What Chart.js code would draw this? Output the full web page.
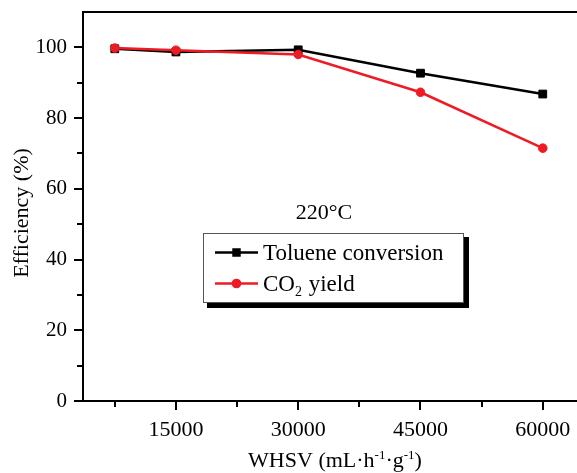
<!DOCTYPE html>
<html>
<head>
<meta charset="utf-8">
<script src="https://cdn.jsdelivr.net/npm/chart.js@4.4.1/dist/chart.umd.min.js"></script>
<style>
  html, body { margin: 0; padding: 0; background: #fff; overflow: hidden; }
  #wrap { width: 577px; height: 473px; }
</style>
</head>
<body>
<div id="wrap"><canvas id="chart" width="577" height="473"></canvas></div>
<script>
// WHSV (mL·h-1·g-1) and efficiencies (%)
const whsv = [7500, 15000, 30000, 45000, 60000];
const tolueneConversion = [99.6, 98.7, 99.3, 92.7, 86.8];
const co2Yield = [99.8, 99.2, 98.0, 87.3, 71.5];

// axis ticks
const xTickValues = [7500, 15000, 22500, 30000, 37500, 45000, 52500, 60000];
const xTickLabels = [15000, 30000, 45000, 60000];
const yTickValues = [0, 10, 20, 30, 40, 50, 60, 70, 80, 90, 100];
const yTickLabels = [0, 20, 40, 60, 80, 100];

const FONT = "'Liberation Serif', 'Times New Roman', serif";

// draws tick marks, top border, annotation, legend box and axis titles
const decorPlugin = {
  id: "decor",
  afterDraw(chart) {
    const ctx = chart.ctx;
    const area = chart.chartArea;
    const xs = chart.scales.x;
    const ys = chart.scales.y;
    ctx.save();
    ctx.strokeStyle = "#000";
    ctx.lineWidth = 2;

    // top frame line
    ctx.beginPath();
    ctx.moveTo(area.left - 1, area.top);
    ctx.lineTo(chart.width, area.top);
    ctx.stroke();

    // x tick marks
    xTickValues.forEach((v) => {
      const px = Math.round(xs.getPixelForValue(v));
      const len = xTickLabels.includes(v) ? 9 : 6;
      ctx.beginPath();
      ctx.moveTo(px, area.bottom);
      ctx.lineTo(px, area.bottom + len);
      ctx.stroke();
    });
    // y tick marks
    yTickValues.forEach((v) => {
      const py = Math.round(ys.getPixelForValue(v));
      const len = yTickLabels.includes(v) ? 9 : 6;
      ctx.beginPath();
      ctx.moveTo(area.left, py);
      ctx.lineTo(area.left - len, py);
      ctx.stroke();
    });

    ctx.fillStyle = "#000";
    ctx.font = "22px " + FONT;
    ctx.textBaseline = "alphabetic";

    // temperature note
    ctx.textAlign = "center";
    ctx.fillText("220°C", 324, 219);

    // legend box with shadow
    const lx = 203, ly = 233, lw = 261, lh = 70;
    ctx.fillStyle = "#000";
    ctx.fillRect(lx + 4, ly + 4, lw + 1, lh + 1);
    ctx.fillStyle = "#fff";
    ctx.fillRect(lx, ly, lw, lh);
    ctx.strokeStyle = "#555";
    ctx.lineWidth = 1;
    ctx.strokeRect(lx + 0.5, ly + 0.5, lw - 1, lh - 1);

    const rows = [252.5, 283.5];
    chart.data.datasets.forEach((ds, i) => {
      const y = rows[i];
      ctx.strokeStyle = ds.borderColor;
      ctx.lineWidth = 2.5;
      ctx.beginPath();
      ctx.moveTo(215, y);
      ctx.lineTo(258, y);
      ctx.stroke();
      ctx.fillStyle = ds.backgroundColor;
      Chart.helpers.drawPoint(ctx, {
        pointStyle: ds.pointStyle,
        radius: ds.pointStyle === "rect" ? 4.2 : 3.6,
        rotation: 0,
        borderWidth: 1
      }, 236.5, y);
    });

    ctx.fillStyle = "#000";
    ctx.textAlign = "left";
    ctx.font = "23px " + FONT;
    ctx.fillText("Toluene conversion", 263, 260);
    let tx = 263;
    ctx.fillText("CO", tx, 291);
    tx += ctx.measureText("CO").width;
    ctx.font = "14px " + FONT;
    ctx.fillText("2", tx, 296);
    tx += ctx.measureText("2").width + 1;
    ctx.font = "23px " + FONT;
    ctx.fillText(" yield", tx, 291);

    // x axis title with superscripts
    const parts = [
      ["WHSV (mL·h", 22, 0],
      ["-1", 13, -8],
      ["·g", 22, 0],
      ["-1", 13, -8],
      [")", 22, 0]
    ];
    let total = 0;
    parts.forEach((p) => {
      ctx.font = p[1] + "px " + FONT;
      total += ctx.measureText(p[0]).width;
    });
    let x0 = 335 - total / 2;
    parts.forEach((p) => {
      ctx.font = p[1] + "px " + FONT;
      ctx.fillText(p[0], x0, 467 + p[2]);
      x0 += ctx.measureText(p[0]).width;
    });

    // y axis title
    ctx.save();
    ctx.translate(22, 213);
    ctx.rotate(-Math.PI / 2);
    ctx.textAlign = "center";
    ctx.textBaseline = "middle";
    ctx.font = "22px " + FONT;
    ctx.fillText("Efficiency (%)", 0, 0);
    ctx.restore();

    ctx.restore();
  }
};

function noPadding(s) {
  s.paddingTop = 0;
  s.paddingBottom = 0;
  s.paddingLeft = 0;
  s.paddingRight = 0;
}

new Chart(document.getElementById("chart"), {
  type: "line",
  data: {
    datasets: [
      {
        label: "Toluene conversion",
        data: whsv.map((x, i) => ({ x: x, y: tolueneConversion[i] })),
        borderColor: "#000",
        backgroundColor: "#000",
        borderWidth: 2.5,
        pointStyle: "rect",
        pointRadius: 5.5,
        pointBorderWidth: 1,
        order: 1
      },
      {
        label: "CO2 yield",
        data: whsv.map((x, i) => ({ x: x, y: co2Yield[i] })),
        borderColor: "#ed1c24",
        backgroundColor: "#ed1c24",
        borderWidth: 2.5,
        pointStyle: "circle",
        pointRadius: 4.3,
        pointBorderWidth: 1,
        order: 0
      }
    ]
  },
  options: {
    responsive: false,
    animation: false,
    layout: { autoPadding: false, padding: { top: 12, right: 0, left: 0, bottom: 0 } },
    plugins: { legend: { display: false }, tooltip: { enabled: false } },
    scales: {
      x: {
        type: "linear",
        min: 3600,
        max: 64200,
        afterBuildTicks: (s) => { s.ticks = xTickValues.map((v) => ({ value: v })); },
        afterFit: (s) => { s.height = 72; noPadding(s); },
        grid: { display: false, drawTicks: false },
        border: { display: true, color: "#000", width: 2 },
        ticks: {
          autoSkip: false,
          maxRotation: 0,
          padding: 16,
          color: "#000",
          font: { family: FONT, size: 22 },
          callback: (v) => (xTickLabels.includes(v) ? String(v) : "")
        }
      },
      y: {
        min: 0,
        max: 110,
        afterBuildTicks: (s) => { s.ticks = yTickValues.map((v) => ({ value: v })); },
        afterFit: (s) => { s.width = 83; noPadding(s); },
        grid: { display: false, drawTicks: false },
        border: { display: true, color: "#000", width: 2 },
        ticks: {
          autoSkip: false,
          padding: 16,
          color: "#000",
          font: { family: FONT, size: 21 },
          callback: (v) => (yTickLabels.includes(v) ? String(v) : "")
        }
      }
    }
  },
  plugins: [decorPlugin]
});
</script>
</body>
</html>
